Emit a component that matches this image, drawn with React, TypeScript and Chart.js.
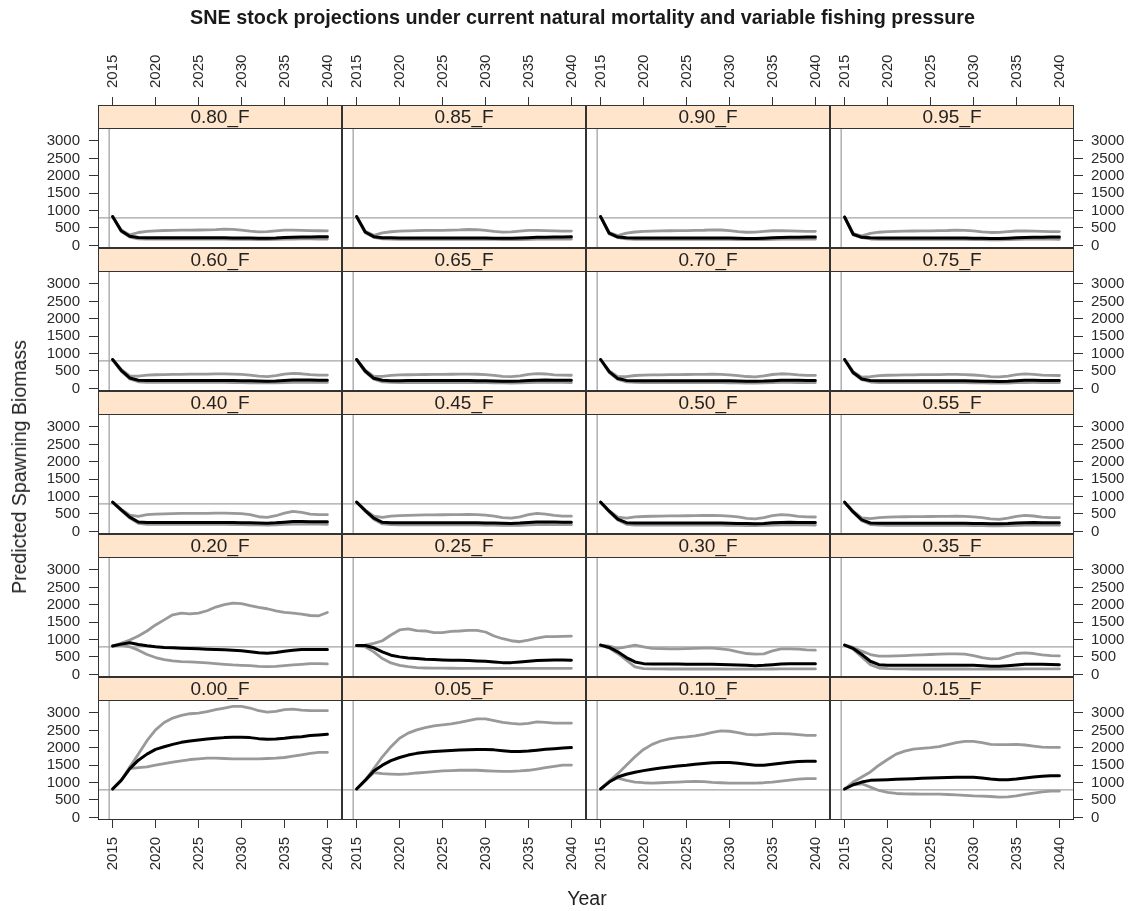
import React, { useEffect, useRef } from "react";
import { Chart, registerables } from "chart.js";

Chart.register(...registerables);

// ---------------- data ----------------
const YEARS = [2015, 2016, 2017, 2018, 2019, 2020, 2021, 2022, 2023, 2024, 2025, 2026, 2027,
  2028, 2029, 2030, 2031, 2032, 2033, 2034, 2035, 2036, 2037, 2038, 2039, 2040];
const X_TICKS = [2015, 2020, 2025, 2030, 2035, 2040];
const Y_TICKS = [0, 500, 1000, 1500, 2000, 2500, 3000];
const REF_BIOMASS = 790;
const REF_YEAR = 2014.6;

const PANEL_ROWS = [
  ["0.80_F", "0.85_F", "0.90_F", "0.95_F"],
  ["0.60_F", "0.65_F", "0.70_F", "0.75_F"],
  ["0.40_F", "0.45_F", "0.50_F", "0.55_F"],
  ["0.20_F", "0.25_F", "0.30_F", "0.35_F"],
  ["0.00_F", "0.05_F", "0.10_F", "0.15_F"],
];

const MED_000 = [815, 1064, 1402, 1644, 1818, 1953, 2031, 2098, 2156, 2195, 2224, 2253, 2272, 2292, 2301, 2301, 2292, 2263, 2243, 2253, 2272, 2301, 2320, 2350, 2369, 2388];
const UPR_000 = [815, 1064, 1450, 1818, 2205, 2514, 2727, 2853, 2930, 2978, 2998, 3036, 3094, 3143, 3191, 3191, 3143, 3065, 3027, 3046, 3094, 3113, 3085, 3065, 3065, 3065];
const LWR_000 = [815, 1064, 1402, 1431, 1450, 1499, 1547, 1586, 1625, 1663, 1683, 1702, 1702, 1692, 1683, 1683, 1683, 1683, 1692, 1702, 1721, 1760, 1799, 1837, 1866, 1866];

const MED_005 = [815, 1064, 1330, 1500, 1630, 1720, 1790, 1840, 1870, 1895, 1910, 1925, 1935, 1945, 1950, 1950, 1940, 1915, 1895, 1890, 1905, 1930, 1955, 1975, 1995, 2005];
const UPR_005 = [815, 1064, 1402, 1741, 2031, 2272, 2420, 2514, 2580, 2630, 2660, 2690, 2727, 2780, 2830, 2830, 2780, 2727, 2700, 2679, 2700, 2746, 2730, 2710, 2708, 2708];
const LWR_005 = [815, 1064, 1286, 1257, 1245, 1238, 1250, 1276, 1295, 1315, 1334, 1345, 1354, 1354, 1354, 1340, 1330, 1325, 1325, 1335, 1354, 1390, 1431, 1465, 1499, 1499];

const MED_010 = [815, 1015, 1160, 1238, 1296, 1344, 1383, 1421, 1450, 1479, 1499, 1528, 1547, 1567, 1576, 1576, 1557, 1528, 1499, 1499, 1528, 1557, 1586, 1605, 1615, 1615];
const UPR_010 = [815, 1035, 1257, 1499, 1741, 1953, 2098, 2195, 2253, 2292, 2311, 2340, 2388, 2446, 2485, 2475, 2437, 2388, 2369, 2388, 2408, 2408, 2400, 2379, 2359, 2359];
const LWR_010 = [815, 1035, 1131, 1064, 1015, 996, 986, 996, 1006, 1015, 1025, 1035, 1025, 1006, 996, 986, 986, 986, 986, 996, 1015, 1044, 1073, 1102, 1112, 1112];

const MED_015 = [815, 938, 1015, 1064, 1073, 1083, 1093, 1102, 1112, 1122, 1131, 1141, 1146, 1151, 1151, 1151, 1131, 1102, 1083, 1083, 1102, 1131, 1160, 1180, 1199, 1199];
const UPR_015 = [815, 1015, 1160, 1305, 1499, 1663, 1818, 1905, 1963, 1982, 2002, 2031, 2089, 2147, 2185, 2185, 2147, 2098, 2089, 2089, 2098, 2080, 2050, 2021, 2011, 2011];
const LWR_015 = [815, 938, 967, 870, 774, 716, 687, 677, 672, 667, 667, 667, 658, 648, 635, 619, 610, 600, 580, 590, 619, 658, 696, 735, 754, 754];

const MED_020 = [815, 870, 909, 861, 822, 793, 774, 764, 754, 745, 735, 725, 716, 706, 696, 677, 648, 619, 609, 629, 667, 696, 716, 716, 716, 716];
const UPR_020 = [815, 890, 986, 1102, 1247, 1421, 1567, 1712, 1760, 1741, 1760, 1828, 1934, 2002, 2050, 2031, 1973, 1924, 1886, 1828, 1780, 1760, 1731, 1692, 1683, 1780];
const LWR_020 = [815, 841, 793, 696, 571, 484, 425, 387, 367, 358, 348, 329, 309, 290, 271, 261, 251, 232, 222, 232, 251, 271, 290, 309, 309, 300];

const MED_025 = [830, 830, 764, 648, 551, 503, 474, 455, 435, 425, 416, 406, 406, 396, 387, 377, 358, 338, 338, 358, 377, 396, 406, 416, 416, 406];
const UPR_025 = [830, 841, 890, 967, 1131, 1276, 1305, 1257, 1247, 1199, 1199, 1238, 1247, 1267, 1267, 1218, 1102, 1025, 967, 938, 986, 1044, 1083, 1083, 1093, 1102];
const LWR_025 = [830, 793, 648, 455, 329, 261, 222, 193, 184, 180, 178, 176, 175, 175, 175, 174, 174, 174, 174, 174, 174, 174, 174, 174, 174, 174];

const MED_030 = [840, 774, 648, 484, 358, 309, 300, 300, 298, 296, 294, 292, 290, 290, 285, 280, 270, 261, 251, 261, 280, 300, 309, 309, 309, 309];
const UPR_030 = [840, 812, 745, 793, 841, 793, 745, 740, 735, 735, 740, 745, 754, 754, 735, 706, 648, 600, 580, 590, 677, 735, 735, 725, 706, 696];
const LWR_030 = [840, 754, 600, 406, 213, 164, 158, 156, 155, 155, 155, 155, 155, 155, 155, 154, 153, 152, 152, 153, 155, 156, 157, 157, 156, 156];

const MED_035 = [840, 745, 571, 377, 280, 261, 261, 261, 261, 261, 261, 261, 261, 261, 261, 261, 251, 232, 232, 251, 271, 290, 290, 290, 285, 280];
const UPR_035 = [840, 774, 667, 571, 522, 522, 532, 542, 551, 561, 571, 580, 590, 590, 580, 542, 484, 445, 455, 522, 600, 619, 600, 561, 542, 532];
const LWR_035 = [840, 725, 503, 280, 184, 164, 158, 156, 155, 155, 155, 155, 155, 155, 155, 154, 152, 150, 150, 152, 155, 157, 158, 158, 157, 156];

const MED_040 = [840, 620, 410, 268, 255, 255, 258, 258, 258, 258, 258, 258, 258, 258, 255, 250, 245, 238, 235, 245, 265, 285, 285, 280, 278, 278];
const UPR_040 = [840, 640, 470, 431, 479, 498, 505, 510, 515, 515, 520, 520, 525, 527, 520, 508, 479, 421, 402, 450, 527, 575, 546, 498, 479, 479];
const LWR_040 = [840, 600, 380, 230, 205, 200, 200, 200, 200, 200, 200, 200, 200, 200, 198, 195, 190, 185, 182, 188, 200, 210, 212, 210, 208, 205];

const MED_045 = [840, 600, 380, 260, 248, 248, 250, 250, 250, 250, 250, 250, 250, 250, 248, 244, 238, 232, 230, 238, 255, 270, 272, 268, 266, 265];
const UPR_045 = [840, 620, 440, 400, 440, 455, 462, 468, 472, 475, 478, 480, 484, 486, 480, 468, 440, 395, 380, 420, 480, 515, 495, 458, 440, 438];
const LWR_045 = [840, 580, 350, 215, 192, 188, 188, 188, 188, 188, 188, 188, 188, 188, 186, 183, 178, 174, 172, 177, 188, 196, 198, 196, 194, 192];

const MED_050 = [840, 580, 350, 250, 240, 240, 242, 242, 242, 242, 242, 242, 242, 242, 240, 236, 230, 225, 223, 230, 245, 258, 260, 256, 255, 254];
const UPR_050 = [840, 600, 410, 380, 415, 428, 435, 440, 445, 447, 450, 452, 456, 458, 452, 440, 415, 375, 362, 398, 452, 482, 465, 432, 416, 414];
const LWR_050 = [840, 560, 330, 205, 184, 180, 180, 180, 180, 180, 180, 180, 180, 180, 178, 175, 171, 167, 165, 170, 180, 187, 189, 187, 185, 184];

const MED_055 = [840, 560, 330, 242, 234, 234, 236, 236, 236, 236, 236, 236, 236, 236, 234, 230, 224, 219, 217, 224, 238, 250, 252, 248, 247, 246];
const UPR_055 = [840, 580, 390, 365, 395, 408, 415, 420, 424, 426, 428, 430, 434, 436, 430, 418, 395, 358, 346, 380, 430, 458, 442, 412, 398, 396];
const LWR_055 = [840, 540, 310, 198, 178, 174, 174, 174, 174, 174, 174, 174, 174, 174, 172, 169, 165, 161, 159, 164, 174, 181, 183, 181, 179, 178];

const MED_060 = [830, 520, 300, 235, 225, 225, 228, 228, 228, 228, 228, 228, 228, 228, 226, 222, 216, 210, 208, 214, 228, 240, 242, 238, 236, 235];
const UPR_060 = [830, 545, 360, 350, 380, 392, 398, 402, 405, 408, 410, 412, 416, 418, 412, 400, 380, 350, 340, 368, 410, 432, 420, 395, 384, 382];
const LWR_060 = [830, 495, 270, 190, 174, 170, 170, 170, 170, 170, 170, 170, 170, 170, 168, 166, 162, 158, 156, 160, 168, 175, 176, 174, 172, 171];

const MED_065 = [830, 500, 290, 232, 222, 222, 225, 225, 225, 225, 225, 225, 225, 225, 223, 219, 213, 207, 205, 211, 225, 236, 238, 234, 232, 231];
const UPR_065 = [830, 525, 345, 345, 375, 386, 392, 396, 399, 402, 404, 406, 410, 412, 406, 394, 374, 345, 336, 362, 404, 425, 414, 390, 379, 377];
const LWR_065 = [830, 475, 262, 187, 172, 168, 168, 168, 168, 168, 168, 168, 168, 168, 166, 164, 160, 156, 154, 158, 166, 172, 173, 171, 170, 169];

const MED_070 = [830, 480, 282, 230, 220, 220, 222, 222, 222, 222, 222, 222, 222, 222, 220, 216, 210, 205, 203, 209, 222, 233, 235, 231, 229, 228];
const UPR_070 = [830, 505, 335, 340, 370, 381, 387, 391, 394, 397, 399, 401, 405, 407, 401, 389, 369, 341, 332, 358, 399, 420, 409, 386, 375, 373];
const LWR_070 = [830, 455, 255, 185, 170, 166, 166, 166, 166, 166, 166, 166, 166, 166, 164, 162, 158, 154, 152, 156, 164, 170, 171, 169, 168, 167];

const MED_075 = [830, 455, 272, 228, 218, 218, 220, 220, 220, 220, 220, 220, 220, 220, 218, 214, 208, 203, 201, 207, 220, 231, 233, 230, 228, 227];
const UPR_075 = [830, 480, 325, 336, 366, 377, 383, 387, 390, 393, 395, 397, 401, 403, 397, 385, 365, 338, 329, 355, 395, 416, 405, 383, 372, 370];
const LWR_075 = [830, 430, 248, 183, 168, 165, 165, 165, 165, 165, 165, 165, 165, 165, 163, 161, 157, 153, 151, 155, 163, 169, 170, 168, 167, 166];

const MED_080 = [828, 420, 263, 225, 218, 216, 216, 216, 216, 216, 216, 216, 216, 216, 215, 214, 210, 205, 205, 212, 225, 235, 240, 242, 245, 248];
const UPR_080 = [828, 440, 300, 370, 400, 419, 428, 434, 438, 440, 442, 446, 452, 467, 460, 440, 410, 390, 395, 420, 438, 440, 432, 425, 420, 419];
const LWR_080 = [828, 400, 240, 190, 180, 178, 178, 178, 178, 178, 178, 178, 178, 178, 177, 175, 172, 168, 167, 171, 178, 184, 186, 185, 184, 183];

const MED_085 = [828, 385, 250, 222, 216, 214, 214, 214, 214, 214, 214, 214, 214, 214, 213, 212, 208, 203, 203, 210, 222, 232, 237, 239, 242, 245];
const UPR_085 = [828, 405, 290, 360, 392, 410, 419, 425, 429, 431, 433, 437, 443, 457, 450, 431, 402, 383, 388, 412, 429, 431, 424, 417, 412, 411];
const LWR_085 = [828, 365, 232, 188, 178, 176, 176, 176, 176, 176, 176, 176, 176, 176, 175, 173, 170, 166, 165, 169, 176, 182, 184, 183, 182, 181];

const MED_090 = [828, 350, 240, 220, 214, 212, 212, 212, 212, 212, 212, 212, 212, 212, 211, 210, 206, 201, 201, 208, 220, 230, 235, 237, 240, 243];
const UPR_090 = [828, 372, 282, 352, 385, 402, 411, 417, 421, 423, 425, 429, 435, 448, 442, 423, 395, 377, 382, 405, 421, 423, 416, 410, 405, 404];
const LWR_090 = [828, 330, 226, 186, 176, 174, 174, 174, 174, 174, 174, 174, 174, 174, 173, 171, 168, 164, 163, 167, 174, 180, 182, 181, 180, 179];

const MED_095 = [815, 320, 232, 218, 212, 210, 210, 210, 210, 210, 210, 210, 210, 210, 209, 208, 204, 199, 199, 206, 218, 228, 233, 235, 238, 241];
const UPR_095 = [815, 342, 275, 345, 378, 395, 404, 410, 414, 416, 418, 422, 428, 440, 434, 416, 389, 371, 376, 398, 414, 416, 409, 403, 398, 397];
const LWR_095 = [815, 300, 220, 184, 174, 172, 172, 172, 172, 172, 172, 172, 172, 172, 171, 169, 166, 162, 161, 165, 172, 178, 180, 179, 178, 177];

const SERIES: Record<string, { med: number[]; upr: number[]; lwr: number[] }> = {
  "0.00_F": { med: MED_000, upr: UPR_000, lwr: LWR_000 },
  "0.05_F": { med: MED_005, upr: UPR_005, lwr: LWR_005 },
  "0.10_F": { med: MED_010, upr: UPR_010, lwr: LWR_010 },
  "0.15_F": { med: MED_015, upr: UPR_015, lwr: LWR_015 },
  "0.20_F": { med: MED_020, upr: UPR_020, lwr: LWR_020 },
  "0.25_F": { med: MED_025, upr: UPR_025, lwr: LWR_025 },
  "0.30_F": { med: MED_030, upr: UPR_030, lwr: LWR_030 },
  "0.35_F": { med: MED_035, upr: UPR_035, lwr: LWR_035 },
  "0.40_F": { med: MED_040, upr: UPR_040, lwr: LWR_040 },
  "0.45_F": { med: MED_045, upr: UPR_045, lwr: LWR_045 },
  "0.50_F": { med: MED_050, upr: UPR_050, lwr: LWR_050 },
  "0.55_F": { med: MED_055, upr: UPR_055, lwr: LWR_055 },
  "0.60_F": { med: MED_060, upr: UPR_060, lwr: LWR_060 },
  "0.65_F": { med: MED_065, upr: UPR_065, lwr: LWR_065 },
  "0.70_F": { med: MED_070, upr: UPR_070, lwr: LWR_070 },
  "0.75_F": { med: MED_075, upr: UPR_075, lwr: LWR_075 },
  "0.80_F": { med: MED_080, upr: UPR_080, lwr: LWR_080 },
  "0.85_F": { med: MED_085, upr: UPR_085, lwr: LWR_085 },
  "0.90_F": { med: MED_090, upr: UPR_090, lwr: LWR_090 },
  "0.95_F": { med: MED_095, upr: UPR_095, lwr: LWR_095 },
};

// ---------------- layout & style ----------------
const FONT = "'Liberation Sans', Arial, Helvetica, sans-serif";
const PAGE_W = 1133;
const PAGE_H = 911;
const GRID_LEFT = 98;
const GRID_TOP = 105;
const COL_W = 244;
const ROW_H = 143;
const STRIP_H = 23;
const PLOT_H = ROW_H - STRIP_H;
const TOP_AXIS_EDGE = 30;
const BOTTOM_AXIS_EDGE = 885;
const PAD_Y = 9; // extra canvas room so edge tick labels are not clipped
const X_MIN = 2013.3;
const X_MAX = 2041.7;
const Y_MIN = -75;
const Y_MAX = 3373;
const Y_TOP = Y_MAX + ((Y_MAX - Y_MIN) * STRIP_H) / PLOT_H;
const TICK_FONT_SIZE = 15;

const STRIP_BG = "#FFE5CC";
const BORDER_COLOR = "#333333";
const AXIS_COLOR = "#333333";
const TICK_TEXT = "#2a2a2a";
const REF_COLOR = "#a3a3a3";
const GRAY_LINE = "#999999";
const BLACK_LINE = "#000000";

const NROW = PANEL_ROWS.length;
const NCOL = PANEL_ROWS[0].length;

function canvasBox(r: number, c: number) {
  const cellL = GRID_LEFT + c * COL_W;
  const cellT = GRID_TOP + r * ROW_H;
  const left = c === 0 ? 0 : cellL;
  const right = c === NCOL - 1 ? PAGE_W : cellL + COL_W;
  const top = (r === 0 ? TOP_AXIS_EDGE : cellT) - PAD_Y;
  const bottom = (r === NROW - 1 ? BOTTOM_AXIS_EDGE : cellT + ROW_H) + PAD_Y;
  return {
    left,
    top,
    width: right - left,
    height: bottom - top,
    leftAxis: cellL - left,
    rightAxis: right - (cellL + COL_W),
    topAxis: r === 0 ? cellT - TOP_AXIS_EDGE : 0,
    bottomAxis: r === NROW - 1 ? BOTTOM_AXIS_EDGE - (cellT + ROW_H) : 0,
  };
}

function decorPlugin(label: string) {
  return {
    id: "panelDecor",
    beforeDatasetsDraw(chart: any) {
      const { ctx, chartArea: a, scales } = chart;
      const plotTop = scales.y.getPixelForValue(Y_MAX);
      ctx.save();
      ctx.strokeStyle = REF_COLOR;
      ctx.lineWidth = 1.3;
      const yr = scales.y.getPixelForValue(REF_BIOMASS);
      ctx.beginPath();
      ctx.moveTo(a.left, yr);
      ctx.lineTo(a.right, yr);
      ctx.stroke();
      const xr = scales.x.getPixelForValue(REF_YEAR);
      ctx.beginPath();
      ctx.moveTo(xr, plotTop);
      ctx.lineTo(xr, a.bottom);
      ctx.stroke();
      ctx.restore();
    },
    afterDraw(chart: any) {
      const { ctx, chartArea: a, scales } = chart;
      const plotTop = Math.round(scales.y.getPixelForValue(Y_MAX));
      ctx.save();
      ctx.fillStyle = STRIP_BG;
      ctx.fillRect(a.left, a.top, a.right - a.left, plotTop - a.top);
      ctx.strokeStyle = BORDER_COLOR;
      ctx.lineWidth = 1;
      ctx.strokeRect(a.left + 0.5, a.top + 0.5, a.right - a.left - 1, a.bottom - a.top - 1);
      ctx.beginPath();
      ctx.moveTo(a.left, plotTop + 0.5);
      ctx.lineTo(a.right, plotTop + 0.5);
      ctx.stroke();
      ctx.fillStyle = "#222222";
      ctx.font = `19px ${FONT}`;
      ctx.textAlign = "center";
      ctx.textBaseline = "middle";
      ctx.fillText(label, (a.left + a.right) / 2, (a.top + plotTop) / 2 + 1);
      ctx.restore();
    },
  };
}

function points(vals: number[]) {
  return YEARS.map((yr, i) => ({ x: yr, y: vals[i] }));
}

function buildConfig(label: string, r: number, c: number): any {
  const box = canvasBox(r, c);
  const s = SERIES[label];
  const tickFont = { family: FONT, size: TICK_FONT_SIZE };
  const lineCommon = {
    pointRadius: 0,
    tension: 0,
    fill: false,
    borderCapStyle: "round",
    borderJoinStyle: "round",
  };
  const isTop = box.topAxis > 0;
  return {
    type: "line",
    data: {
      datasets: [
        { ...lineCommon, data: points(s.med), borderColor: BLACK_LINE, borderWidth: 3 },
        { ...lineCommon, data: points(s.lwr), borderColor: GRAY_LINE, borderWidth: 2.8 },
        { ...lineCommon, data: points(s.upr), borderColor: GRAY_LINE, borderWidth: 2.8 },
      ],
    },
    options: {
      responsive: false,
      animation: false,
      events: [],
      layout: { padding: { top: PAD_Y, bottom: PAD_Y, left: 0, right: 0 }, autoPadding: false },
      plugins: {
        legend: { display: false },
        tooltip: { enabled: false },
        title: { display: false },
      },
      scales: {
        x: {
          type: "linear",
          min: X_MIN,
          max: X_MAX,
          display: box.topAxis > 0 || box.bottomAxis > 0,
          position: isTop ? "top" : "bottom",
          grid: { drawOnChartArea: false, drawTicks: true, tickLength: 8, color: AXIS_COLOR, lineWidth: 1 },
          border: { display: false },
          ticks: {
            autoSkip: false,
            minRotation: 90,
            maxRotation: 90,
            padding: 9,
            // Chart.js shifts rotated labels on a top axis by one line height; compensate
            labelOffset: isTop ? TICK_FONT_SIZE * 1.2 : 0,
            color: TICK_TEXT,
            font: tickFont,
            callback: (v: any) => String(v),
          },
          afterBuildTicks: (sc: any) => {
            sc.ticks = X_TICKS.map((value) => ({ value }));
          },
          afterFit: (sc: any) => {
            sc.height = isTop ? box.topAxis : box.bottomAxis;
            sc.paddingLeft = 0;
            sc.paddingRight = 0;
          },
        },
        y: {
          type: "linear",
          min: Y_MIN,
          max: Y_TOP,
          display: box.leftAxis > 0 || box.rightAxis > 0,
          position: box.rightAxis > 0 ? "right" : "left",
          grid: { drawOnChartArea: false, drawTicks: true, tickLength: 9, color: AXIS_COLOR, lineWidth: 1 },
          border: { display: false },
          ticks: {
            autoSkip: false,
            padding: box.rightAxis > 0 ? 8 : 9,
            color: TICK_TEXT,
            font: tickFont,
            callback: (v: any) => String(v),
          },
          afterBuildTicks: (sc: any) => {
            sc.ticks = Y_TICKS.map((value) => ({ value }));
          },
          afterFit: (sc: any) => {
            sc.width = box.leftAxis > 0 ? box.leftAxis : box.rightAxis;
            sc.paddingTop = 0;
            sc.paddingBottom = 0;
          },
        },
      },
    },
    plugins: [decorPlugin(label)],
  };
}

export default function App() {
  const refs = useRef<(HTMLCanvasElement | null)[]>([]);

  useEffect(() => {
    const charts: Chart[] = [];
    PANEL_ROWS.forEach((row, r) =>
      row.forEach((label, c) => {
        const canvas = refs.current[r * NCOL + c];
        if (canvas) charts.push(new Chart(canvas, buildConfig(label, r, c)));
      })
    );
    return () => charts.forEach((ch) => ch.destroy());
  }, []);

  const canvases: React.ReactNode[] = [];
  PANEL_ROWS.forEach((row, r) =>
    row.forEach((label, c) => {
      const b = canvasBox(r, c);
      const idx = r * NCOL + c;
      canvases.push(
        <canvas
          key={label}
          ref={(el) => {
            refs.current[idx] = el;
          }}
          width={b.width}
          height={b.height}
          style={{ position: "absolute", left: b.left, top: b.top, width: b.width, height: b.height }}
        />
      );
    })
  );

  return (
    <div
      style={{
        position: "absolute",
        left: 0,
        top: 0,
        width: PAGE_W,
        height: PAGE_H,
        background: "#ffffff",
        fontFamily: FONT,
        overflow: "hidden",
      }}
    >
      {canvases}
      <div
        style={{
          position: "absolute",
          left: 0,
          top: 7,
          width: 1165,
          textAlign: "center",
          fontWeight: "bold",
          fontSize: 19.8,
          lineHeight: "20px",
          color: "#1a1a1a",
          whiteSpace: "nowrap",
        }}
      >
        SNE stock projections under current natural mortality and variable fishing pressure
      </div>
      <div
        style={{
          position: "absolute",
          left: 18.7,
          top: 466.7,
          transform: "translate(-50%, -50%) rotate(-90deg)",
          fontSize: 19.5,
          lineHeight: "20px",
          color: "#222",
          whiteSpace: "nowrap",
        }}
      >
        Predicted Spawning Biomass
      </div>
      <div
        style={{
          position: "absolute",
          left: 587,
          top: 888,
          transform: "translateX(-50%)",
          fontSize: 19.5,
          lineHeight: "20px",
          color: "#222",
          whiteSpace: "nowrap",
        }}
      >
        Year
      </div>
    </div>
  );
}
